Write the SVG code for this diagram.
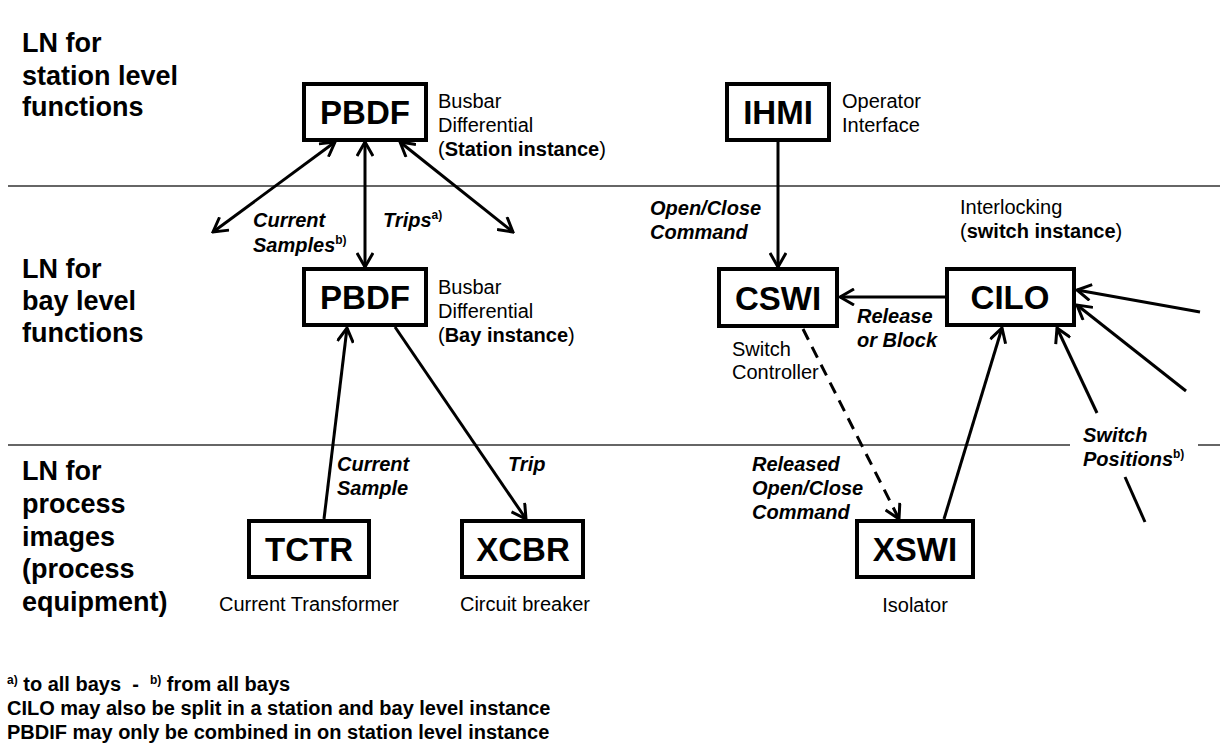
<svg xmlns="http://www.w3.org/2000/svg" width="1230" height="753" viewBox="0 0 1230 753">
<style>
text{font-family:"Liberation Sans",Arial,sans-serif;fill:#000}
.hdr{font-size:27px;font-weight:bold}
.box{fill:#fff;stroke:#000;stroke-width:4}
.nm{font-size:33px;font-weight:bold;text-anchor:middle}
.lbl{font-size:20px}
.cl{font-size:20px;font-weight:bold;font-style:italic}
.fn{font-size:20px;font-weight:bold}
.sup{font-size:12px;font-style:normal}
.div{stroke:#333;stroke-width:1.5}
.c{stroke:#000;stroke-width:3;fill:none}
</style>
<defs>
<marker id="ah" viewBox="0 0 18 18" refX="16" refY="9" markerWidth="18" markerHeight="18" markerUnits="userSpaceOnUse" orient="auto-start-reverse">
<path d="M2,1 L16,9 L2,17" fill="none" stroke="#000" stroke-width="3"/>
</marker>
</defs>
<rect width="1230" height="753" fill="#fff"/>
<g id="dividers">
<line class="div" x1="8" y1="186" x2="1220" y2="186"/>
<line class="div" x1="8" y1="445" x2="1070" y2="445"/>
<line class="div" x1="1198" y1="445" x2="1220" y2="445"/>
</g>
<g id="headers">
<text class="hdr" x="22" y="52">LN for</text>
<text class="hdr" x="22" y="85">station level</text>
<text class="hdr" x="22" y="116">functions</text>
<text class="hdr" x="22" y="278">LN for</text>
<text class="hdr" x="22" y="310">bay level</text>
<text class="hdr" x="22" y="342">functions</text>
<text class="hdr" x="22" y="480">LN for</text>
<text class="hdr" x="22" y="513">process</text>
<text class="hdr" x="22" y="546">images</text>
<text class="hdr" x="22" y="578">(process</text>
<text class="hdr" x="22" y="611">equipment)</text>
</g>
<g id="connectors">
<line class="c" x1="335" y1="142" x2="213" y2="232" marker-start="url(#ah)" marker-end="url(#ah)"/>
<line class="c" x1="365" y1="142" x2="365" y2="267" marker-start="url(#ah)" marker-end="url(#ah)"/>
<line class="c" x1="400" y1="142" x2="513" y2="232" marker-start="url(#ah)" marker-end="url(#ah)"/>
<line class="c" x1="324" y1="519" x2="347" y2="328" marker-end="url(#ah)"/>
<line class="c" x1="395" y1="327" x2="526" y2="519" marker-end="url(#ah)"/>
<line class="c" x1="778" y1="142" x2="778" y2="267" marker-end="url(#ah)"/>
<line class="c" x1="945" y1="297" x2="840" y2="297" marker-end="url(#ah)"/>
<line class="c" x1="803" y1="329" x2="899" y2="519" stroke-dasharray="12,8" marker-end="url(#ah)"/>
<line class="c" x1="944" y1="519" x2="1002" y2="328" marker-end="url(#ah)"/>
<line class="c" x1="1200" y1="312" x2="1077" y2="290" marker-end="url(#ah)"/>
<line class="c" x1="1186" y1="391" x2="1077" y2="305" marker-end="url(#ah)"/>
<line class="c" x1="1097" y1="413" x2="1057" y2="328" marker-end="url(#ah)"/>
<line class="c" x1="1125" y1="477" x2="1145" y2="522"/>
</g>
<g id="pbdf-station">
<rect class="box" x="304" y="84" width="122" height="56"/>
<text class="nm" x="365" y="124">PBDF</text>
<text class="lbl" x="438" y="108">Busbar</text>
<text class="lbl" x="438" y="132">Differential</text>
<text class="lbl" x="438" y="156">(<tspan font-weight="bold">Station instance</tspan>)</text>
</g>
<g id="ihmi">
<rect class="box" x="727" y="84" width="102" height="56"/>
<text class="nm" x="778" y="124">IHMI</text>
<text class="lbl" x="842" y="108">Operator</text>
<text class="lbl" x="842" y="132">Interface</text>
</g>
<g id="pbdf-bay">
<rect class="box" x="304" y="269" width="122" height="56"/>
<text class="nm" x="365" y="309">PBDF</text>
<text class="lbl" x="438" y="294">Busbar</text>
<text class="lbl" x="438" y="318">Differential</text>
<text class="lbl" x="438" y="342">(<tspan font-weight="bold">Bay instance</tspan>)</text>
</g>
<g id="cswi">
<rect class="box" x="719" y="269" width="118" height="57"/>
<text class="nm" x="778" y="310">CSWI</text>
<text class="lbl" x="732" y="356">Switch</text>
<text class="lbl" x="732" y="379">Controller</text>
</g>
<g id="cilo">
<rect class="box" x="947" y="269" width="127" height="56"/>
<text class="nm" x="1010" y="309">CILO</text>
<text class="lbl" x="960" y="214">Interlocking</text>
<text class="lbl" x="960" y="238">(<tspan font-weight="bold">switch instance</tspan>)</text>
</g>
<g id="tctr">
<rect class="box" x="249" y="521" width="120" height="56"/>
<text class="nm" x="309" y="561">TCTR</text>
<text class="lbl" x="309" y="611" text-anchor="middle">Current Transformer</text>
</g>
<g id="xcbr">
<rect class="box" x="462" y="521" width="121" height="56"/>
<text class="nm" x="523" y="561">XCBR</text>
<text class="lbl" x="525" y="611" text-anchor="middle">Circuit breaker</text>
</g>
<g id="xswi">
<rect class="box" x="857" y="521" width="116" height="56"/>
<text class="nm" x="915" y="561">XSWI</text>
<text class="lbl" x="915" y="612" text-anchor="middle">Isolator</text>
</g>
<g id="connector-labels">
<text class="cl" x="253" y="227">Current</text>
<text class="cl" x="253" y="252">Samples<tspan class="sup" dy="-8">b)</tspan></text>
<text class="cl" x="383" y="227">Trips<tspan class="sup" dy="-8">a)</tspan></text>
<text class="cl" x="337" y="471">Current</text>
<text class="cl" x="337" y="495">Sample</text>
<text class="cl" x="508" y="471">Trip</text>
<text class="cl" x="650" y="215">Open/Close</text>
<text class="cl" x="650" y="239">Command</text>
<text class="cl" x="857" y="323">Release</text>
<text class="cl" x="857" y="347">or Block</text>
<text class="cl" x="752" y="471">Released</text>
<text class="cl" x="752" y="495">Open/Close</text>
<text class="cl" x="752" y="519">Command</text>
<text class="cl" x="1083" y="442">Switch</text>
<text class="cl" x="1083" y="466">Positions<tspan class="sup" dy="-8">b)</tspan></text>
</g>
<g id="footnotes">
<text class="fn" x="7" y="691" xml:space="preserve"><tspan class="sup" dy="-7">a)</tspan><tspan dy="7"> to all bays  -  </tspan><tspan class="sup" dy="-7">b)</tspan><tspan dy="7"> from all bays</tspan></text>
<text class="fn" x="7" y="715">CILO may also be split in a station and bay level instance</text>
<text class="fn" x="7" y="739">PBDIF may only be combined in on station level instance</text>
</g>
</svg>
